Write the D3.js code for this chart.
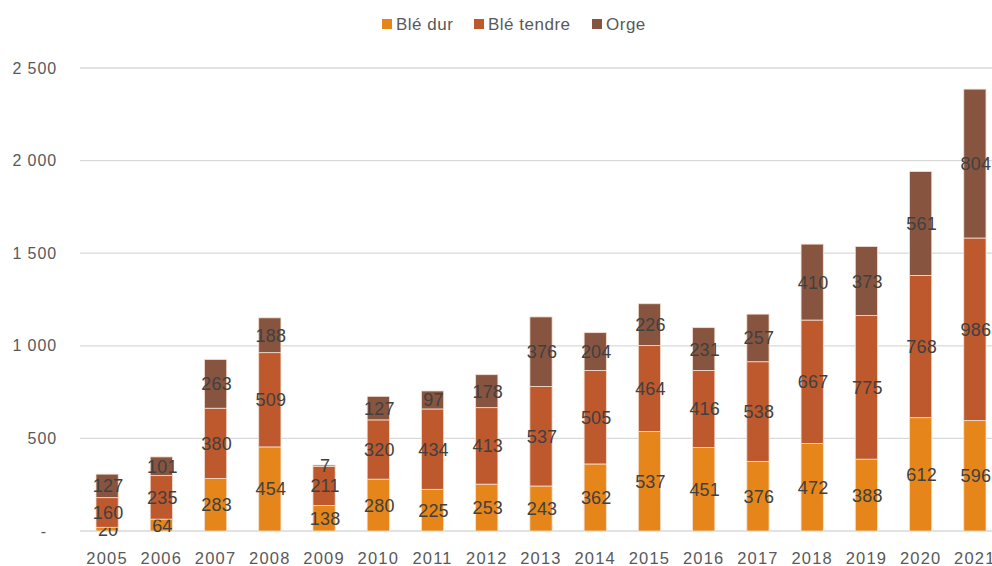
<!DOCTYPE html>
<html>
<head>
<meta charset="utf-8">
<script src="https://cdn.jsdelivr.net/npm/d3@7"></script>
<style>
  body { margin: 0; background: #fff; }
  svg text { font-family: "Liberation Sans", Arial, sans-serif; }
</style>
</head>
<body>
<div id="chart"></div>
<script>
// Data
const years = ['2005','2006','2007','2008','2009','2010','2011','2012','2013','2014','2015','2016','2017','2018','2019','2020','2021'];
const bleDur = [20, 64, 283, 454, 138, 280, 225, 253, 243, 362, 537, 451, 376, 472, 388, 612, 596];
const bleTendre = [160, 235, 380, 509, 211, 320, 434, 413, 537, 505, 464, 416, 538, 667, 775, 768, 986];
const orge = [127, 101, 263, 188, 7, 127, 97, 178, 376, 204, 226, 231, 257, 410, 373, 561, 804];
const seriesNames = ['Blé dur', 'Blé tendre', 'Orge'];
const yTicks = [0, 500, 1000, 1500, 2000, 2500];

const colors = ['#E6861A', '#BE582D', '#87553F'];

const width = 992, height = 566;
const svg = d3.select('#chart').append('svg')
    .attr('width', width)
    .attr('height', height);

// build a table for d3.stack
const table = years.map((y, i) => ({ year: y, 'Blé dur': bleDur[i], 'Blé tendre': bleTendre[i], 'Orge': orge[i] }));
const stacked = d3.stack().keys(seriesNames)(table);

const x = d3.scaleBand().domain(years).range([80, 1002]).paddingInner(0.59).paddingOuter(0.295);
const y = d3.scaleLinear().domain([0, 2500]).range([531, 68]);

// gridlines
svg.append('g')
    .selectAll('line')
    .data(yTicks)
    .join('line')
    .attr('x1', 80).attr('x2', width)
    .attr('y1', d => y(d)).attr('y2', d => y(d))
    .attr('stroke', '#d9d9d9')
    .attr('stroke-width', 1.3);

// y axis labels
const fmt = d => d === 0 ? '-' : d3.format(',')(d).replace(/,/g, ' ');
svg.append('g')
    .selectAll('text')
    .data(yTicks)
    .join('text')
    .attr('x', d => d === 0 ? 47 : 57)
    .attr('y', d => y(d))
    .attr('dy', '0.35em')
    .attr('text-anchor', 'end')
    .attr('fill', '#595959')
    .attr('font-size', 16)
    .attr('letter-spacing', 0.9)
    .text(fmt);

// x axis labels
svg.append('g')
    .selectAll('text')
    .data(years)
    .join('text')
    .attr('x', d => x(d) + x.bandwidth() / 2)
    .attr('y', 564)
    .attr('text-anchor', 'middle')
    .attr('fill', '#595959')
    .attr('font-size', 16.5)
    .attr('letter-spacing', 1.2)
    .text(d => d);

// bars
const layers = svg.append('g')
    .selectAll('g')
    .data(stacked)
    .join('g')
    .attr('fill', (d, i) => colors[i]);

layers.selectAll('rect')
    .data(d => d)
    .join('rect')
    .attr('x', d => x(d.data.year))
    .attr('y', d => y(d[1]))
    .attr('width', x.bandwidth())
    .attr('height', d => y(d[0]) - y(d[1]))
    .attr('stroke', '#f3e0d4')
    .attr('stroke-width', 0.8);

// value labels
layers.selectAll('text')
    .data(d => d.map(v => ({ v, key: d.key })))
    .join('text')
    .attr('x', d => x(d.v.data.year) + x.bandwidth() / 2 + 1)
    .attr('y', d => (y(d.v[0]) + y(d.v[1])) / 2)
    .attr('dy', '0.36em')
    .attr('text-anchor', 'middle')
    .attr('fill', '#404040')
    .attr('font-size', 18)
    .attr('letter-spacing', 0.2)
    .text(d => d.v.data[d.key]);

// legend
const legendX = [382, 474, 592];
const legend = svg.append('g')
    .selectAll('g')
    .data(seriesNames)
    .join('g')
    .attr('transform', (d, i) => `translate(${legendX[i]},24)`);
legend.append('rect')
    .attr('x', 0).attr('y', -5)
    .attr('width', 10).attr('height', 10)
    .attr('fill', (d, i) => colors[i]);
legend.append('text')
    .attr('x', 14)
    .attr('y', 0)
    .attr('dy', '0.36em')
    .attr('fill', '#595959')
    .attr('font-size', 17)
    .attr('letter-spacing', 0.5)
    .text(d => d);
</script>
</body>
</html>
